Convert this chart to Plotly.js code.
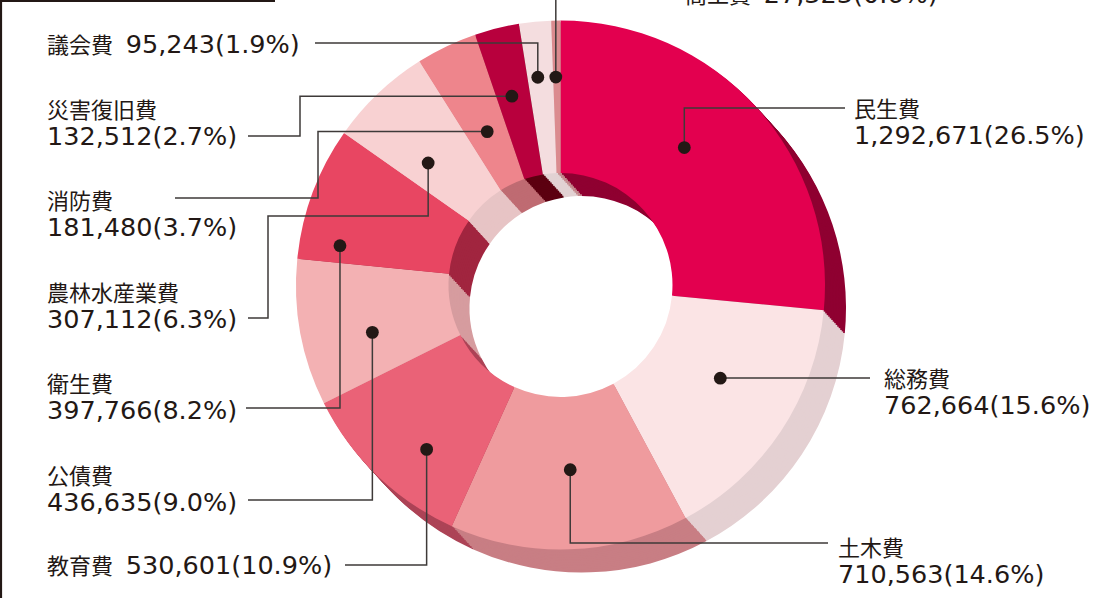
<!DOCTYPE html>
<html><head><meta charset="utf-8">
<script src="https://cdn.plot.ly/plotly-3.0.1.min.js"></script>
<style>html,body{margin:0;padding:0;background:#fff;}#chart{width:1115px;height:598px;}</style>
</head><body><div id="chart"></div>
<script>
// ---- data ----
const categories = ['民生費','総務費','土木費','教育費','公債費','衛生費','農林水産業費','消防費','災害復旧費','議会費','商工費'];
const amounts    = [1292671, 762664, 710563, 530601, 436635, 397766, 307112, 181480, 132512, 95243, 27323];
const percents   = [26.5, 15.6, 14.6, 10.9, 9.0, 8.2, 6.3, 3.7, 2.7, 1.9, 0.6];

// ---- styles ----
const topColors  = ['#e3004f','#fbe4e5','#ef9b9e','#ea6277','#f3b1b3','#e84662','#f8d1d2','#ee858c','#b8003d','#f4dddf','#db8b8f'];
const sideColors = ['#8f0031','#e4d0d2','#c87e84','#ad4457','#d69c9f','#a1253f','#e7c4c5','#bf6b72','#5c0010','#e2d2d3','#c58a8e'];

const W = 1115, H = 598;
const CX = 560.5, CY = 285, R = 264.5, HOLE = 0.4234, DX = 21, DY = 23, LAYERS = 14;
const INK = '#231815', LINE = '#3e3a39';

// label boxes: left x, centre y, two lines?
const labelPos = [
  {x:852, y:121, two:true},
  {x:882, y:390, two:true},
  {x:836, y:559, two:true},
  {x:45,  y:564, two:false},
  {x:45,  y:487, two:true},
  {x:45,  y:395, two:true},
  {x:45,  y:304, two:true},
  {x:45,  y:212, two:true},
  {x:45,  y:122, two:true},
  {x:45,  y:43,  two:false},
  {x:683, y:-7,  two:false}
];
// dot placement: fraction of the slice's angle, distance from centre
const dotFrac   = [0.44, 0.44, 0.48, 0.38, 0.385, 0.15, 0.335, 0.5, 0.45, 0.4, 0.36];
const dotRadius = [185, 185, 185, 212, 194, 224, 180, 170, 195, 209, 208];
const routes = [
  [['y',108],['x',845]],
  [['y',378],['x',870]],
  [['y',543],['x',828]],
  [['y',565],['x',345]],
  [['y',500],['x',248]],
  [['y',408],['x',246]],
  [['y',216],['x',268],['y',318],['x',248]],
  [['x',318],['y',198],['x',175]],
  [['x',300],['y',136],['x',248]],
  [['y',43],['x',315]],
  [['y',-6]]
];

function pieDomain(cx, cy) {
  return { x: [(cx - R) / W, (cx + R) / W], y: [1 - (cy + R) / H, 1 - (cy - R) / H] };
}
function pieTrace(colors, cx, cy) {
  return {
    type: 'pie', values: amounts, labels: categories, sort: false,
    direction: 'clockwise', rotation: 0, hole: HOLE,
    textinfo: 'none', hoverinfo: 'skip', showlegend: false,
    marker: { colors: colors, line: { width: 0 } },
    domain: pieDomain(cx, cy)
  };
}

const traces = [{type:'scatter', x:[], y:[], hoverinfo:'skip', showlegend:false}];
for (let k = LAYERS; k >= 1; k--) {
  const t = k / LAYERS;
  traces.push(pieTrace(sideColors, CX + DX * t, CY + DY * t));
}
traces.push(pieTrace(topColors, CX, CY));

// dots & leader lines, positioned from the slice angles
const total = amounts.reduce((a, b) => a + b, 0);
const shapes = [];
let cum = 0;
amounts.forEach((v, i) => {
  const ang = (cum + v * dotFrac[i]) / total * 2 * Math.PI;
  cum += v;
  const px = CX + dotRadius[i] * Math.sin(ang);
  const py = CY - dotRadius[i] * Math.cos(ang);
  let path = `M${px},${py}`;
  let cx = px, cy = py;
  routes[i].forEach(([ax, val]) => {
    if (ax === 'x') cx = val; else cy = val;
    path += ` L${cx},${cy}`;
  });
  shapes.push({type:'path', xref:'x', yref:'y', layer:'above', path: path, line:{color: LINE, width: 1.5}});
  const dr = 6.4;
  shapes.push({type:'circle', xref:'x', yref:'y', layer:'above', x0: px - dr, x1: px + dr, y0: py - dr, y1: py + dr,
               fillcolor: INK, line:{width:0}});
});
// frame
shapes.push({type:'line', xref:'paper', yref:'paper', x0:0, x1:275/W, y0:1-1/H, y1:1-1/H, line:{color:INK, width:2.2}});
shapes.push({type:'line', xref:'paper', yref:'paper', x0:1/W, x1:1/W, y0:0, y1:1, line:{color:INK, width:2.2}});

const kanji = s => `<span style="font-family:'Noto Sans CJK JP';font-size:22px">${s}</span>`;
const num = s => `<span style="font-family:'DejaVu Sans';font-size:25.5px">${s}</span>`;
const annotations = categories.map((c, i) => {
  const p = labelPos[i];
  const figures = amounts[i].toLocaleString('en-US') + '(' + percents[i].toFixed(1) + '%)';
  const text = kanji(c) + (p.two ? '<br>' + num(figures) : num('\u2002' + figures));
  return {
    xref:'paper', yref:'paper', x: p.x / W, y: 1 - p.y / H,
    xanchor:'left', yanchor:'middle', align:'left', showarrow:false,
    text: text, font:{family:'Noto Sans CJK JP', size:21, color: INK}
  };
});

const layout = {
  width: W, height: H, margin:{l:0, r:0, t:0, b:0},
  paper_bgcolor:'#ffffff', plot_bgcolor:'rgba(0,0,0,0)',
  xaxis:{range:[0, W], visible:false, fixedrange:true},
  yaxis:{range:[H, 0], visible:false, fixedrange:true},
  showlegend:false, shapes: shapes, annotations: annotations
};
Plotly.newPlot('chart', traces, layout, {staticPlot:true, displayModeBar:false});
</script></body></html>
